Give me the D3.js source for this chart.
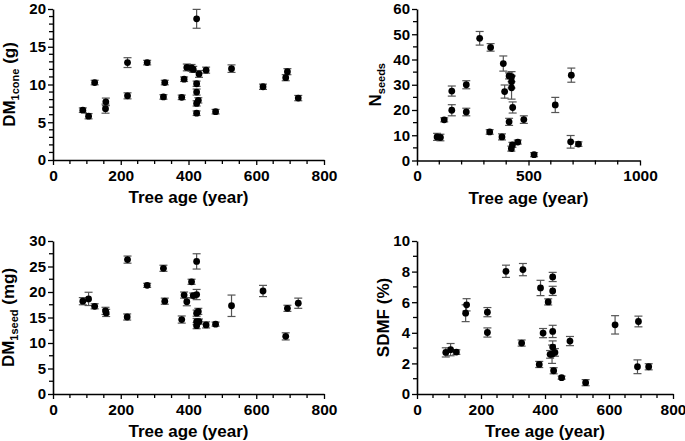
<!DOCTYPE html>
<html><head><meta charset="utf-8">
<script src="https://cdn.jsdelivr.net/npm/d3@7"></script>
<style>
html,body{margin:0;padding:0;background:#fff;}
svg{display:block;font-family:"Liberation Sans",Arial,sans-serif;font-weight:bold;}
</style></head>
<body><svg id="c" width="685" height="441"></svg>
<script>
// ---- Data ----
// Panel A: DM1cone (g)
const coneAge = [88,105,123,156,155,220,220,278,326,330,380,387,395,409,414,424,424,424,424,429,424,431,452,480,527,620,687,692,724];
const coneDM  = [6.6,5.8,10.26,7.7,6.8,12.9,8.5,12.9,8.35,10.26,8.3,10.7,12.26,12.2,12.0,18.7,10.1,9.0,7.5,7.9,6.2,11.4,11.9,6.4,12.1,9.7,10.9,11.7,8.2];
const coneErr = [0.3,0.35,0.3,0.5,0.6,0.65,0.4,0.3,0.3,0.3,0.3,0.3,0.45,0.45,0.4,1.25,0.35,0.4,0.35,0.35,0.3,0.45,0.4,0.3,0.5,0.35,0.4,0.4,0.35];

// Panel B: Nseeds
const nAge  = [90,105,122,156,156,221,221,281,326,330,381,387,393,413,413,423,424,424,424,429,428,452,479,525,620,689,692,724];
const nSeed = [9.35,9.1,16.1,19.9,27.5,30.0,19.2,48.4,11.3,44.8,9.35,38.4,27.3,15.3,33.5,4.7,33.2,31.2,28.8,21.0,6.2,7.3,16.2,2.3,22.0,7.4,33.8,6.5];
const nErr  = [1.4,1.3,0.8,2.2,2.0,1.6,1.5,2.7,0.9,1.5,1.2,3.0,2.6,1.4,1.2,1.0,2.0,2.5,4.5,2.2,1.0,0.8,1.5,0.8,3.0,2.5,2.8,0.9];

// Panel C: DM1seed (mg)
const seedAge = [88,105,123,155,157,220,219,278,326,330,380,387,395,409,414,424,424,424,429,424,424,431,452,480,527,620,687,692,724];
const seedDM  = [18.2,18.65,17.2,16.3,15.9,26.35,15.1,21.3,24.65,18.2,14.6,19.4,18.1,22.0,19.3,26.0,19.5,15.85,16.2,14.2,13.4,14.2,13.55,13.7,17.3,20.2,11.3,16.8,17.8];
const seedErr = [0.7,1.3,0.5,0.7,0.7,0.7,0.6,0.4,0.6,0.6,0.7,0.6,0.8,0.5,0.5,1.5,1.0,0.6,0.6,0.6,0.6,0.5,0.6,0.4,2.1,1.1,0.7,0.6,1.0];

// Panel D: SDMF (%)
const sdAge  = [90,105,123,155,152,220,220,278,327,331,382,386,394,410,416,424,424,424,424,422,431,427,452,478,527,619,689,692,724];
const sdmf   = [2.72,2.9,2.74,5.83,5.28,5.35,4.02,8.02,3.33,8.13,1.93,6.93,3.98,6.02,2.59,7.65,6.74,4.09,3.07,2.6,2.72,1.52,1.07,3.46,0.74,4.52,1.78,4.74,1.78];
const sdErr  = [0.3,0.4,0.15,0.4,0.55,0.3,0.3,0.4,0.2,0.4,0.2,0.5,0.3,0.2,0.25,0.3,0.3,0.4,0.4,0.6,0.25,0.2,0.1,0.3,0.2,0.6,0.45,0.35,0.2];

// Tick definitions
const xTicks800  = [0,200,400,600,800];
const xTicks1000 = [0,500,1000];

// ---- Drawing ----
const svg = d3.select("#c");
const fmt = d3.format("d");

const panels = [
  {x:coneAge, y:coneDM, e:coneErr, xd:[0,800], yd:[0,20], xt:xTicks800, xm:50, yt:d3.range(0,21,5), ym:1,
   box:{l:53,r:324,t:9,b:160}, title:["DM","1cone"," (g)"], tx:15},
  {x:nAge, y:nSeed, e:nErr, xd:[0,1000], yd:[0,60], xt:xTicks1000, xm:100, yt:d3.range(0,61,10), ym:5,
   box:{l:417,r:640,t:9,b:160.5}, title:["N","seeds",""], tx:381},
  {x:seedAge, y:seedDM, e:seedErr, xd:[0,800], yd:[0,30], xt:xTicks800, xm:50, yt:d3.range(0,31,5), ym:2.5,
   box:{l:53,r:324,t:241,b:394}, title:["DM","1seed"," (mg)"], tx:14},
  {x:sdAge, y:sdmf, e:sdErr, xd:[0,800], yd:[0,10], xt:xTicks800, xm:50, yt:d3.range(0,11,2), ym:1,
   box:{l:417,r:673,t:241,b:394}, title:["SDMF (%)","",""], tx:389}
];

panels.forEach(p => {
  const b = p.box;
  const xs = d3.scaleLinear().domain(p.xd).range([b.l,b.r]);
  const ys = d3.scaleLinear().domain(p.yd).range([b.b,b.t]);
  const g = svg.append("g");

  const xMinor = d3.range(p.xd[0], p.xd[1]+1e-9, p.xm).filter(v => !p.xt.includes(v));
  const yMinor = d3.range(p.yd[0], p.yd[1]+1e-9, p.ym).filter(v => !p.yt.some(t => Math.abs(t-v)<1e-9));

  const xAxis = d3.axisBottom(xs).tickValues(p.xt).tickFormat(fmt).tickSize(5).tickSizeOuter(0).tickPadding(2);
  const gx = g.append("g").attr("transform",`translate(0,${b.b})`).call(xAxis);
  gx.selectAll("text").attr("font-size",15.5).attr("font-weight","bold").attr("fill","#000")
    .attr("dy",null).attr("y",20.5);
  g.append("g").selectAll("line").data(xMinor).join("line")
    .attr("x1",d=>xs(d)).attr("x2",d=>xs(d)).attr("y1",b.b).attr("y2",b.b+4)
    .attr("stroke","#000").attr("stroke-width",1.3);

  const yAxis = d3.axisLeft(ys).tickValues(p.yt).tickFormat(fmt).tickSize(5).tickSizeOuter(0).tickPadding(2);
  const gy = g.append("g").attr("transform",`translate(${b.l},0)`).call(yAxis);
  gy.selectAll("text").attr("font-size",15).attr("font-weight","bold").attr("fill","#000");
  g.append("g").selectAll("line").data(yMinor).join("line")
    .attr("y1",d=>ys(d)).attr("y2",d=>ys(d)).attr("x1",b.l).attr("x2",b.l-4)
    .attr("stroke","#000").attr("stroke-width",1.3);

  g.selectAll(".domain").attr("stroke","#000").attr("stroke-width",1.6);
  g.selectAll(".tick line").attr("stroke","#000").attr("stroke-width",1.3);

  g.append("text").attr("x",(b.l+b.r)/2).attr("y",b.b+43)
    .attr("text-anchor","middle").attr("font-size",17).attr("font-weight","bold")
    .text("Tree age (year)");

  const yt = g.append("text").attr("transform",`translate(${p.tx},${(b.t+b.b)/2}) rotate(-90)`)
    .attr("text-anchor","middle").attr("font-size",17).attr("font-weight","bold");
  yt.append("tspan").text(p.title[0]);
  if (p.title[1]) yt.append("tspan").attr("font-size",11).attr("dy",4).text(p.title[1]);
  if (p.title[2]) yt.append("tspan").attr("dy",-4).text(p.title[2]);

  const data = p.x.map((v,i)=>({x:v,y:p.y[i],e:p.e[i]}));
  const eb = g.append("g").attr("stroke","#555").attr("stroke-width",1.2);
  eb.selectAll("line.v").data(data).join("line").attr("class","v")
    .attr("x1",d=>xs(d.x)).attr("x2",d=>xs(d.x)).attr("y1",d=>ys(d.y-d.e)).attr("y2",d=>ys(d.y+d.e));
  eb.selectAll("line.t").data(data).join("line").attr("class","t")
    .attr("x1",d=>xs(d.x)-4).attr("x2",d=>xs(d.x)+4).attr("y1",d=>ys(d.y+d.e)).attr("y2",d=>ys(d.y+d.e));
  eb.selectAll("line.b").data(data).join("line").attr("class","b")
    .attr("x1",d=>xs(d.x)-4).attr("x2",d=>xs(d.x)+4).attr("y1",d=>ys(d.y-d.e)).attr("y2",d=>ys(d.y-d.e));
  g.append("g").selectAll("circle").data(data).join("circle")
    .attr("cx",d=>xs(d.x)).attr("cy",d=>ys(d.y)).attr("r",3.4).attr("fill","#000");
});
</script>
</body></html>
